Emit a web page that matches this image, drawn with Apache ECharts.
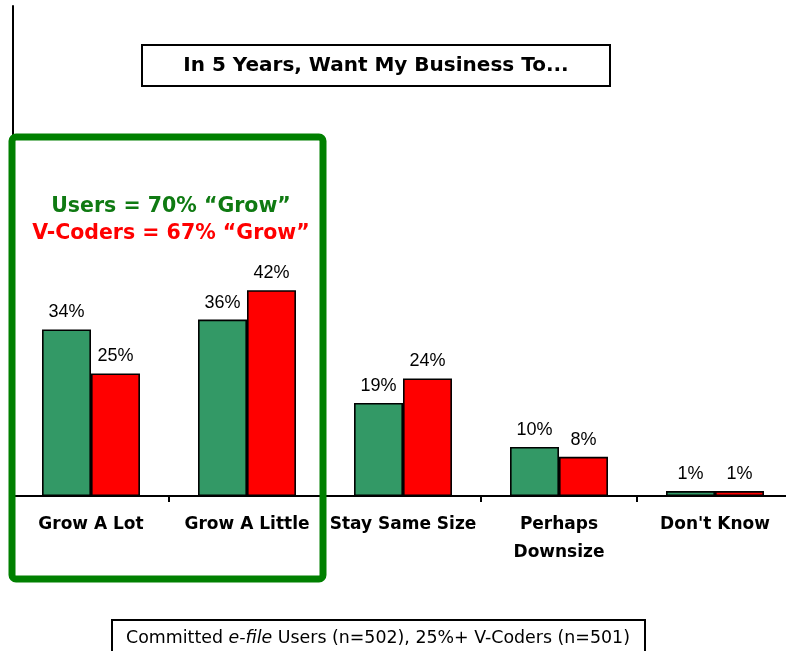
<!DOCTYPE html>
<html>
<head>
<meta charset="utf-8">
<style>
  html, body { margin: 0; padding: 0; background: #fff; overflow: hidden; }
  #chart { width: 800px; height: 651px; }
</style>
<script src="https://cdn.jsdelivr.net/npm/echarts@6/dist/echarts.min.js"></script>
</head>
<body>
<div id="chart"></div>
<script>
// Survey answers: share of respondents per plan for their business
const categories = ['Grow A Lot', 'Grow A Little', 'Stay Same Size', 'Perhaps\nDownsize', "Don't Know"];
const usersValues = [34, 36, 19, 10, 1];
const codersValues = [25, 42, 24, 8, 1];
const seriesNames = ['Committed e-file Users', '25%+ V-Coders'];

const chartTitle = 'In 5 Years, Want My Business To...';
const usersGrowNote = 'Users = 70% \u201cGrow\u201d';
const codersGrowNote = 'V-Coders = 67% \u201cGrow\u201d';

const GREEN_BAR = '#339966';
const RED_BAR = '#ff0000';
const FRAME_GREEN = '#008000';
const BOLD_FONT = '"DejaVu Sans", Verdana, sans-serif';
const VALUE_FONT = '"Liberation Sans", Arial, sans-serif';

// the last category runs slightly past the right edge of the window
const chart = echarts.init(document.getElementById('chart'), null, { renderer: 'canvas' });

const valueLabel = {
  show: true,
  position: 'top',
  distance: 8,
  formatter: '{c}%',
  color: '#000',
  fontFamily: VALUE_FONT,
  fontSize: 18
};

function barSeries(name, values, color) {
  return {
    name: name,
    type: 'bar',
    data: values,
    barWidth: '31.4%',
    barGap: '0%',
    itemStyle: { color: color, borderColor: '#000', borderWidth: 1.6 },
    label: valueLabel,
    emphasis: { disabled: true },
    z: 2
  };
}

chart.setOption({
  animation: false,
  backgroundColor: '#fff',
  grid: { left: 13, top: 6, width: 780, height: 490, containLabel: false },
  xAxis: {
    type: 'category',
    data: categories,
    axisLine: { show: true, lineStyle: { color: '#000', width: 2 } },
    axisTick: { show: true, length: 6, lineStyle: { color: '#000', width: 2 } },
    axisLabel: {
      interval: 0,
      margin: 15,
      color: '#000',
      fontFamily: BOLD_FONT,
      fontWeight: 'bold',
      fontSize: 17,
      lineHeight: 28
    },
    splitLine: { show: false }
  },
  yAxis: {
    type: 'value',
    min: 0,
    max: 100,
    interval: 20,
    axisLine: { show: true, lineStyle: { color: '#000', width: 2 } },
    axisTick: { show: false },
    axisLabel: { show: false },
    splitLine: { show: false }
  },
  series: [
    barSeries(seriesNames[0], usersValues, GREEN_BAR),
    barSeries(seriesNames[1], codersValues, RED_BAR)
  ],
  graphic: [
    // title box
    {
      type: 'rect', z: 10,
      shape: { x: 142, y: 45, width: 468, height: 41 },
      style: { fill: '#fff', stroke: '#000', lineWidth: 2 }
    },
    {
      type: 'text', z: 11, x: 376, y: 66,
      style: {
        text: chartTitle, align: 'center', verticalAlign: 'middle',
        font: 'bold 20px ' + BOLD_FONT, fill: '#000'
      }
    },
    // frame around the two "grow" categories
    {
      type: 'rect', z: 12,
      shape: { x: 12, y: 137, width: 311, height: 442, r: 4 },
      style: { fill: 'none', stroke: FRAME_GREEN, lineWidth: 7 }
    },
    {
      type: 'text', z: 11, x: 171, y: 207,
      style: {
        text: usersGrowNote, align: 'center', verticalAlign: 'middle',
        font: 'bold 20.5px ' + BOLD_FONT, fill: '#0f7a12'
      }
    },
    {
      type: 'text', z: 11, x: 171, y: 234,
      style: {
        text: codersGrowNote, align: 'center', verticalAlign: 'middle',
        font: 'bold 20.5px ' + BOLD_FONT, fill: '#ff0000'
      }
    },
    // sample note at the bottom
    {
      type: 'rect', z: 10,
      shape: { x: 112, y: 620, width: 533, height: 45 },
      style: { fill: '#fff', stroke: '#000', lineWidth: 2 }
    },
    {
      type: 'text', z: 11, x: 378, y: 638,
      style: {
        text: '{n|Committed }{i|e-file}{n| Users (n=502), 25%+ V-Coders (n=501)}',
        align: 'center', verticalAlign: 'middle',
        rich: {
          n: { fontFamily: BOLD_FONT, fontSize: 17.4, fill: '#000' },
          i: { fontFamily: BOLD_FONT, fontSize: 17.4, fontStyle: 'italic', fill: '#000' }
        }
      }
    }
  ]
});
</script>
</body>
</html>
